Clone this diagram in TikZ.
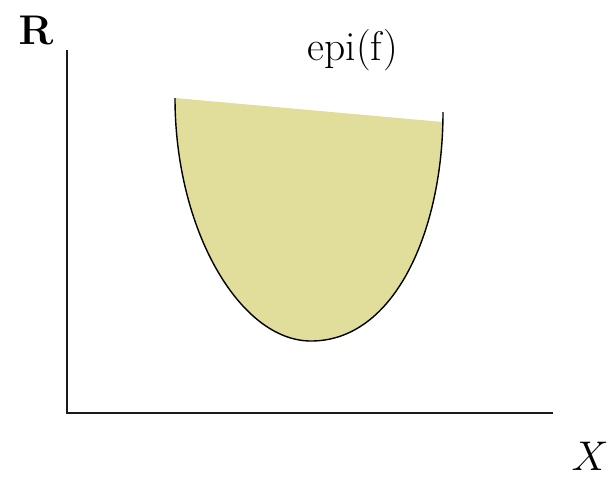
\documentclass[tikz,border=0pt]{standalone}
\usepackage{tikz}
\usetikzlibrary{calc}
\usepackage{amsmath}
\definecolor{epifill}{RGB}{224,222,154}
\definecolor{axisgray}{HTML}{1A1A1A}

\begin{document}
\begin{tikzpicture}[x=0.5pt,y=-0.5pt,
    axisline/.style={axisgray,line width=1pt},
    graphline/.style={black,line width=0.7pt},
    lbl/.style={font=\huge,inner sep=0pt}]
  \useasboundingbox (0,0) rectangle (608,478);
  % axes
  \coordinate (ytop) at (67,50);
  \coordinate (origin) at (67,413);
  \coordinate (xend) at (553,413);
  \draw[axisline] (ytop) -- (origin) -- (xend);
  \node[lbl] (rlabel) at (36,30) {$\mathbf{R}$};
  \node[lbl] (xlabel) at (590,456) {$X$};
  % epigraph
  \coordinate (left) at (175,98);
  \coordinate (bottom) at (311,341);
  \coordinate (right) at (443,112);
  \coordinate (cut) at (443,122);
  \fill[epifill] (left) .. controls (175,230) and (240,341) .. (bottom)
    .. controls (395,341) and (443,230) .. (right) -- (cut) -- cycle;
  \draw[graphline] (left) .. controls (175,230) and (240,341) .. (bottom)
    .. controls (395,341) and (443,230) .. (right);
  \node[lbl] (epi) at (353,50) {epi(f)};
\end{tikzpicture}
\end{document}
